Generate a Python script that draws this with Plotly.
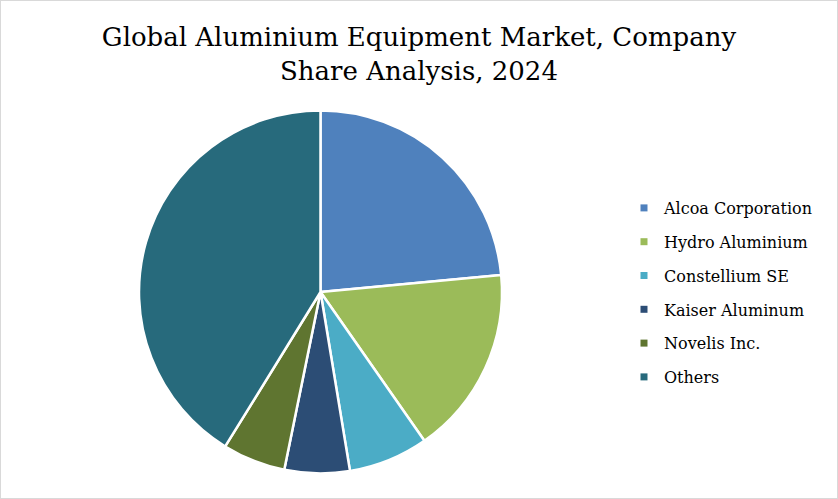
import plotly.graph_objects as go

companies = ["Alcoa Corporation", "Hydro Aluminium", "Constellium SE",
             "Kaiser Aluminum", "Novelis Inc.", "Others"]
shares = [23.5, 16.8, 7.1, 5.8, 5.6, 41.2]
colours = ["#4f81bd", "#9bbb59", "#4bacc6", "#2c4d75", "#5f7530", "#276a7c"]

W, H = 838, 499
serif = "Georgia, 'DejaVu Serif', serif"

fig = go.Figure()
fig.add_trace(go.Pie(labels=companies,
                     values=shares,
                     sort=False,
                     direction='clockwise',
                     rotation=0,
                     textinfo='none',
                     showlegend=False,
                     marker=dict(colors=colours,
                                 line=dict(color='white', width=2.5)),
                     domain=dict(x=[139 / W, 502 / W],
                                 y=[1 - 473.5 / H, 1 - 110.5 / H])))

# legend entries (one per slice, so the gap between rows can be set)
for name, col in zip(companies, colours):
    fig.add_trace(go.Scatter(x=[None], y=[None], mode='markers', name=name,
                             legendgroup=name, hoverinfo='skip',
                             marker=dict(symbol='square', size=7, color=col)))

fig.update_layout(width=W, height=H,
                  margin=dict(l=0, r=0, t=0, b=0),
                  paper_bgcolor='white',
                  plot_bgcolor='white',
                  xaxis=dict(visible=False),
                  yaxis=dict(visible=False),
                  font=dict(family=serif, color='black'),
                  title=dict(text="Global Aluminium Equipment Market, Company<br>Share Analysis, 2024",
                             x=0.5, xanchor='center', y=1 - 46 / H, yanchor='top',
                             font=dict(family=serif, size=26, color='black')),
                  legend=dict(x=624 / W, xanchor='left', y=1 - 191 / H, yanchor='top',
                              font=dict(family=serif, size=16, color='black'),
                              itemwidth=30, tracegroupgap=10),
                  shapes=[dict(type='rect', xref='paper', yref='paper',
                               x0=0, y0=0, x1=1, y1=1,
                               line=dict(color='#d9d9d9', width=2))])

fig.write_html("out.html", config={'displayModeBar': False},
               post_script="document.body.style.margin='0';")
